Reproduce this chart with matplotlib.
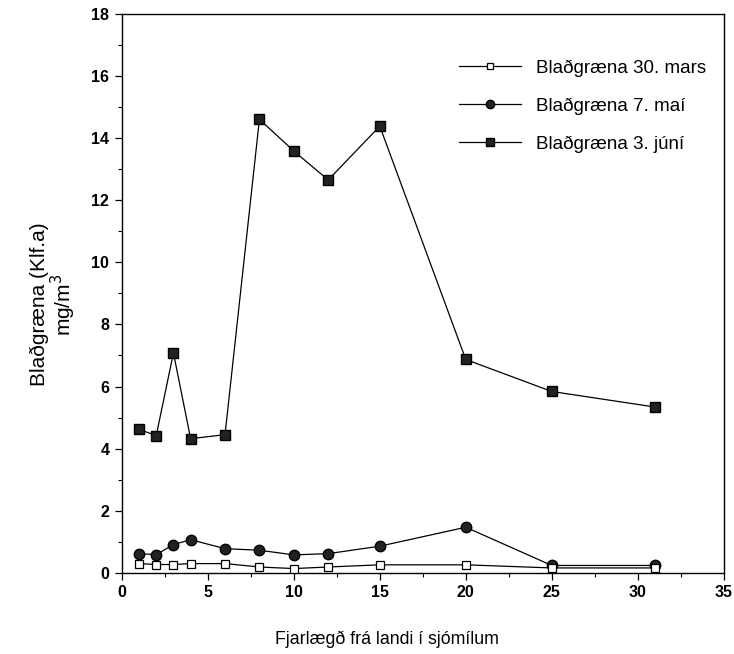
import numpy as np
import matplotlib
matplotlib.use("Agg")
import matplotlib.pyplot as plt
from matplotlib.ticker import MultipleLocator

plt.rcParams['font.family'] = ['Liberation Sans', 'DejaVu Sans']

# distance from land (nautical miles)
x_mars = [1, 2, 3, 4, 6, 8, 10, 12, 15, 20, 25, 31]
y_mars = [0.30, 0.27, 0.27, 0.30, 0.30, 0.19, 0.14, 0.19, 0.26, 0.26, 0.16, 0.16]

x_mai = [1, 2, 3, 4, 6, 8, 10, 12, 15, 20, 25, 31]
y_mai = [0.62, 0.59, 0.91, 1.07, 0.78, 0.73, 0.58, 0.62, 0.86, 1.47, 0.24, 0.24]

x_juni = [1, 2, 3, 4, 6, 8, 10, 12, 15, 20, 25, 31]
y_juni = [4.62, 4.42, 7.08, 4.32, 4.45, 14.6, 13.58, 12.65, 14.38, 6.87, 5.84, 5.34]

labels = ["Blaðgræna 30. mars", "Blaðgræna 7. maí", "Blaðgræna 3. júní"]

fig = plt.figure(figsize=(7.34, 6.54), dpi=100)
ax = fig.add_axes([0.166, 0.124, 0.820, 0.855])

ax.plot(x_mars, y_mars, color="black", lw=0.9, marker="s", ms=6,
        mfc="white", mec="black", mew=0.9, label=labels[0], zorder=3)
ax.plot(x_mai, y_mai, color="black", lw=0.9, marker="o", ms=7.5,
        mfc="#222222", mec="black", label=labels[1], zorder=2)
ax.plot(x_juni, y_juni, color="black", lw=0.9, marker="s", ms=7,
        mfc="#222222", mec="black", label=labels[2])

ax.set_xlim(0, 35)
ax.set_ylim(0, 18)
ax.xaxis.set_major_locator(MultipleLocator(5))
ax.xaxis.set_minor_locator(MultipleLocator(2.5))
ax.yaxis.set_major_locator(MultipleLocator(2))
ax.yaxis.set_minor_locator(MultipleLocator(1))
ax.tick_params(which="major", direction="out", length=5, width=0.9,
               labelsize=11.5, pad=4)
ax.tick_params(which="minor", direction="out", length=3, width=0.8)
for lab in ax.get_xticklabels() + ax.get_yticklabels():
    lab.set_fontweight("bold")
for s in ax.spines.values():
    s.set_linewidth(1.0)

ax.set_xlabel("Fjarlægð frá landi í sjómílum", fontsize=12.8)
ax.xaxis.set_label_coords(0.44, -0.104)
ax.set_ylabel("Blaðgræna (Klf.a)\nmg/m$^3$", fontsize=15, linespacing=1.0)
ax.yaxis.set_label_coords(-0.073, 0.48)

leg = ax.legend(loc="upper left", bbox_to_anchor=(0.56, 0.918),
                frameon=False, fontsize=13.5, handlelength=3.3,
                labelspacing=1.1, handletextpad=0.8,
                borderpad=0, borderaxespad=0, markerscale=0.8)

fig.savefig("out.png", dpi=100)
